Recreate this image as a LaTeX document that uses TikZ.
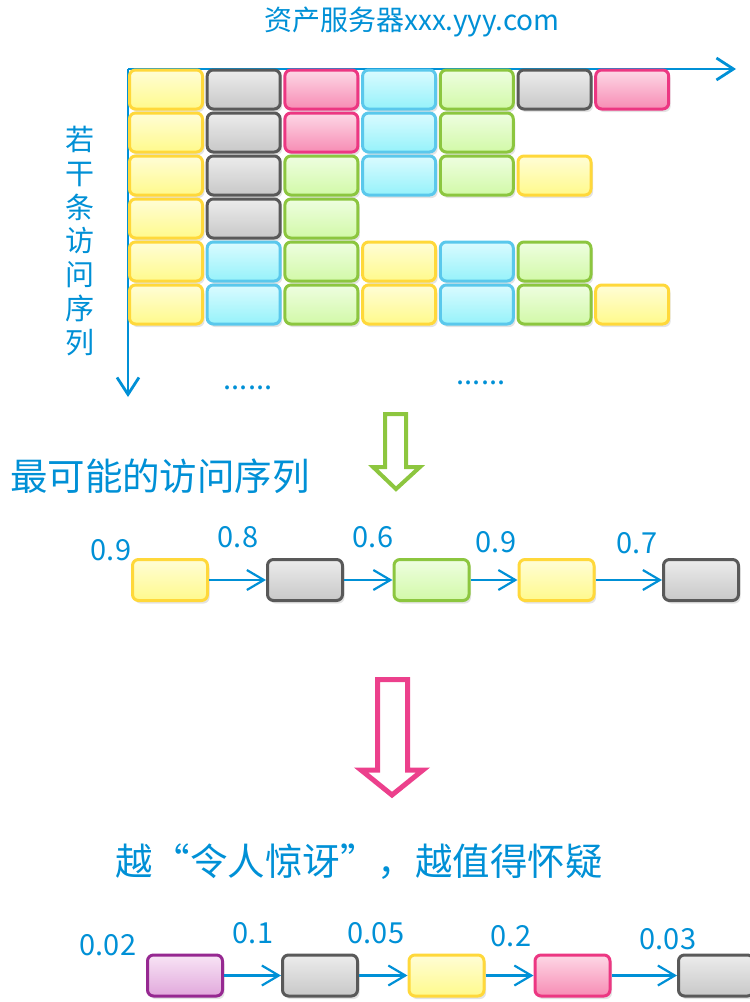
\documentclass[tikz,border=0pt]{standalone}
\usepackage{fontspec}
\setmainfont{Noto Sans CJK SC}
\usetikzlibrary{arrows.meta,shadows}
\definecolor{txtblue}{RGB}{0,144,214}
\definecolor{yelB}{RGB}{255,216,58}
\definecolor{yelT}{RGB}{255,253,214}
\definecolor{yelF}{RGB}{255,250,140}
\definecolor{gryB}{RGB}{89,89,89}
\definecolor{gryT}{RGB}{236,236,236}
\definecolor{gryF}{RGB}{200,200,200}
\definecolor{pnkB}{RGB}{236,55,130}
\definecolor{pnkT}{RGB}{253,216,230}
\definecolor{pnkF}{RGB}{247,140,180}
\definecolor{cyaB}{RGB}{90,200,236}
\definecolor{cyaT}{RGB}{218,251,255}
\definecolor{cyaF}{RGB}{150,242,250}
\definecolor{grnB}{RGB}{140,198,63}
\definecolor{grnT}{RGB}{238,254,224}
\definecolor{grnF}{RGB}{210,249,168}
\definecolor{purB}{RGB}{150,40,145}
\definecolor{purT}{RGB}{248,228,245}
\definecolor{purF}{RGB}{225,168,220}
\definecolor{arrGreen}{RGB}{141,198,63}
\definecolor{arrPink}{RGB}{236,64,140}
\tikzset{
  cbox/.style={rectangle, rounded corners=6pt, line width=3pt, inner sep=0pt,
    minimum width=73pt, minimum height=39pt,
    drop shadow={shadow xshift=2pt, shadow yshift=-3pt, opacity=0.22}},
  sbox/.style={cbox, minimum width=75pt, minimum height=41pt},
  yb/.style={draw=yelB, top color=yelT, bottom color=yelF},
  gb/.style={draw=gryB, top color=gryT, bottom color=gryF},
  pb/.style={draw=pnkB, top color=pnkT, bottom color=pnkF},
  cb/.style={draw=cyaB, top color=cyaT, bottom color=cyaF},
  lb/.style={draw=grnB, top color=grnT, bottom color=grnF},
  mb/.style={draw=purB, top color=purT, bottom color=purF},
  lbl/.style={text=txtblue, font=\fontsize{29}{32}\selectfont, inner sep=0pt},
  conn/.style={draw=txtblue, line width=2.2pt, -{Straight Barb[length=17pt,width=20pt]}},
  axisline/.style={draw=txtblue, line width=2.8pt, -{Straight Barb[length=17pt,width=22pt]}},
}
\begin{document}
\begin{tikzpicture}[x=1pt,y=-1pt]
\useasboundingbox (0,0) rectangle (750,1002);
% title
\node[lbl, font=\fontsize{28}{32}\selectfont] (title) at (412,22) {资产服务器xxx.yyy.com};
% axes
\coordinate (origin) at (128,69);
\coordinate (xend) at (736,69);
\coordinate (yend) at (128,397);
\draw[axisline] (origin) -- (xend);
\draw[axisline] (origin) -- (yend);
% vertical label
\node[lbl, font=\fontsize{29}{33.7}\selectfont, align=center] (vlabel) at (80,241) {若\\干\\条\\访\\问\\序\\列};
% grid of boxes
\foreach \row/\cols in {1/{yb,gb,pb,cb,lb,gb,pb},2/{yb,gb,pb,cb,lb},3/{yb,gb,lb,cb,lb,yb},4/{yb,gb,lb},5/{yb,cb,lb,yb,cb,lb},6/{yb,cb,lb,yb,cb,lb,yb}}{
  \foreach \c [count=\i] in \cols {
    \node[cbox,\c] (g\row-\i) at ({166+77.7*(\i-1)},{89.5+43*(\row-1)}) {};
  }
}
\node[lbl] (dots1) at (248,388) {......};
\node[lbl] (dots2) at (481,383) {......};
% green hollow arrow
\draw[arrGreen, line width=4pt, line join=miter] (385,414) -- (406,414) -- (406,467) -- (420,467) -- (396,489) -- (373,467) -- (385,467) -- cycle;
% heading
\node[lbl, font=\fontsize{37.5}{40}\selectfont] (head1) at (160,476) {最可能的访问序列};
% sequence 1
\node[sbox,yb] (a1) at (170,580) {};
\node[sbox,gb] (a2) at (305,580) {};
\node[sbox,lb] (a3) at (431.5,580) {};
\node[sbox,yb] (a4) at (556.5,580) {};
\node[sbox,gb] (a5) at (701,580) {};
\draw[conn] (a1) -- (a2);
\draw[conn] (a2) -- (a3);
\draw[conn] (a3) -- (a4);
\draw[conn] (a4) -- (a5);
\node[lbl] (p1) at (111,550) {0.9};
\node[lbl] (p2) at (238,537) {0.8};
\node[lbl] (p3) at (373,537) {0.6};
\node[lbl] (p4) at (496,542) {0.9};
\node[lbl] (p5) at (637,543) {0.7};
% pink hollow arrow
\draw[arrPink, line width=5pt, line join=miter] (377.5,679.5) -- (407.5,679.5) -- (407.5,770) -- (423,770) -- (392,795) -- (361,770) -- (377.5,770) -- cycle;
% heading 2
\node[lbl, font=\fontsize{37.5}{40}\selectfont] (head2) at (359,862) {越“令人惊讶”，越值得怀疑};
% sequence 2
\node[sbox,mb] (b1) at (185,975.5) {};
\node[sbox,gb] (b2) at (320,975.5) {};
\node[sbox,yb] (b3) at (446.5,975.5) {};
\node[sbox,pb] (b4) at (572.5,975.5) {};
\node[sbox,gb] (b5) at (716,975.5) {};
\draw[conn] (b1) -- (b2);
\draw[conn] (b2) -- (b3);
\draw[conn] (b3) -- (b4);
\draw[conn] (b4) -- (b5);
\node[lbl] (q1) at (108,945) {0.02};
\node[lbl] (q2) at (253,933) {0.1};
\node[lbl] (q3) at (376,933) {0.05};
\node[lbl] (q4) at (511,936) {0.2};
\node[lbl] (q5) at (668,939) {0.03};
\end{tikzpicture}
\end{document}
